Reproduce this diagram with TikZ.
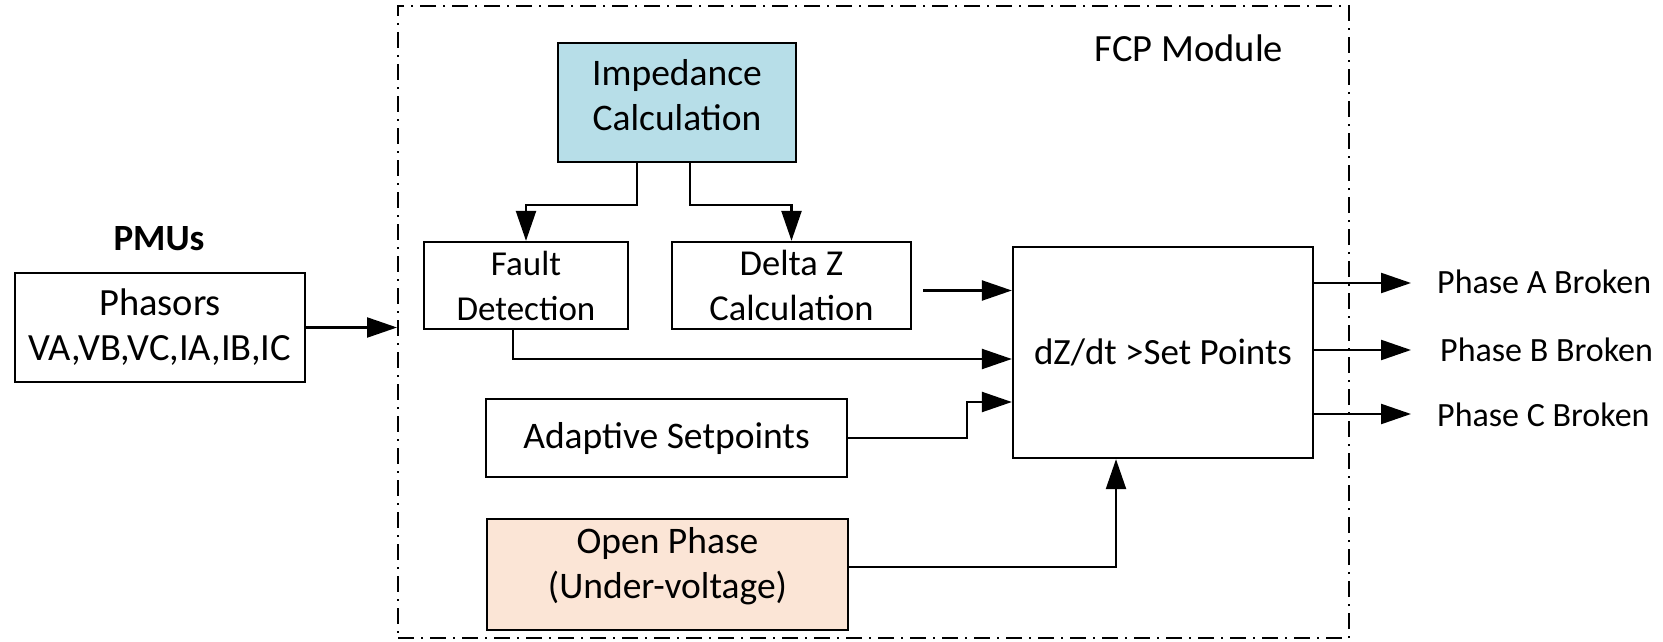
\documentclass[tikz,border=0pt]{standalone}
\usepackage{fontspec}
\setmainfont{Carlito}
\usetikzlibrary{arrows.meta}
\definecolor{impblue}{HTML}{B7DEE8}
\definecolor{openpeach}{HTML}{FBE5D6}
\newcommand{\fsz}[1]{\fontsize{#1}{45}\selectfont}
\begin{document}
\begin{tikzpicture}[x=1pt, y=-1pt,
  font=\fsz{37.5},
  blk/.style={draw, line width=2.3pt, inner sep=0pt, align=center},
  wire/.style={line width=2.3pt},
  arr/.style={wire, -{Triangle[length=30pt,width=20pt]}},
  outlbl/.style={anchor=west, inner sep=0pt, font=\fsz{34}},
  modframe/.style={draw, line width=2pt, dash pattern=on 16pt off 7pt on 2pt off 7pt}
  ]
\useasboundingbox (0,0) rectangle (1663,642);

% module frame and its title
\node[modframe, minimum width=951pt, minimum height=632pt] (fcp) at (873.5,322) {};
\node[font=\fsz{38.5}] (fcptitle) at (1189,48) {FCP Module};

% PMU input block
\node[font=\fsz{37}\bfseries] (pmutitle) at (159,239) {PMUs};
\node[blk, font=\fsz{38.5}, minimum width=290pt, minimum height=109pt] (pmu) at (160,327.5) {Phasors\\VA,VB,VC,IA,IB,IC};

% processing blocks (an empty trailing line lifts the text a little)
\node[blk, fill=impblue, minimum width=238pt, minimum height=119pt] (imp) at (677,102.5) {Impedance\\Calculation\\[-29pt]\mbox{}};
\node[blk, font=\fsz{35}, minimum width=204pt, minimum height=87pt] (fault) at (526,285.5) {Fault\\Detection};
\node[blk, font=\fsz{36.5}, minimum width=239pt, minimum height=87pt] (delta) at (791.5,285.5) {Delta Z\\Calculation};
\node[blk, minimum width=361pt, minimum height=78pt] (adapt) at (666.5,438) {Adaptive Setpoints};
\node[blk, fill=openpeach, minimum width=361pt, minimum height=111pt] (open) at (667.5,574.5) {Open Phase\\(Under-voltage)\\[-22pt]\mbox{}};
\node[blk, font=\fsz{37}, minimum width=300pt, minimum height=211pt] (dz) at (1163,352.5) {dZ/dt >Set Points};

% outputs
\node[outlbl] (pa) at (1437,282) {Phase A Broken};
\node[outlbl] (pb) at (1440,350) {Phase B Broken};
\node[outlbl] (pc) at (1437,415) {Phase C Broken};

% connectors
\draw[arr] (pmu.east) -- (fcp.west |- pmu.east);
\draw[arr] ([xshift=-40pt]imp.south) -- ++(0,42) -| (fault.north);
\draw[arr] ([xshift=13pt]imp.south) -- ++(0,42) -| (delta.north);
\draw[arr, shorten <=11pt] ([yshift=-5pt]delta.east) -- ([yshift=-5pt]delta.east -| dz.west);
\draw[arr] ([xshift=-13pt]fault.south) |- ([yshift=-6.5pt]dz.west);
\draw[arr] (adapt.east) -- ++(119,0) |- ([yshift=-49.5pt]dz.west);
\draw[arr] ([yshift=7.5pt]open.east) -| ([xshift=-47pt]dz.south);

\draw[arr] (dz.east |- 0,283) -- ([xshift=-26pt]pa.west |- 0,283);
\draw[arr] (dz.east |- pb.west) -- ([xshift=-29pt]pb.west);
\draw[arr] (dz.east |- 0,414) -- ([xshift=-26pt]pc.west |- 0,414);
\end{tikzpicture}
\end{document}
